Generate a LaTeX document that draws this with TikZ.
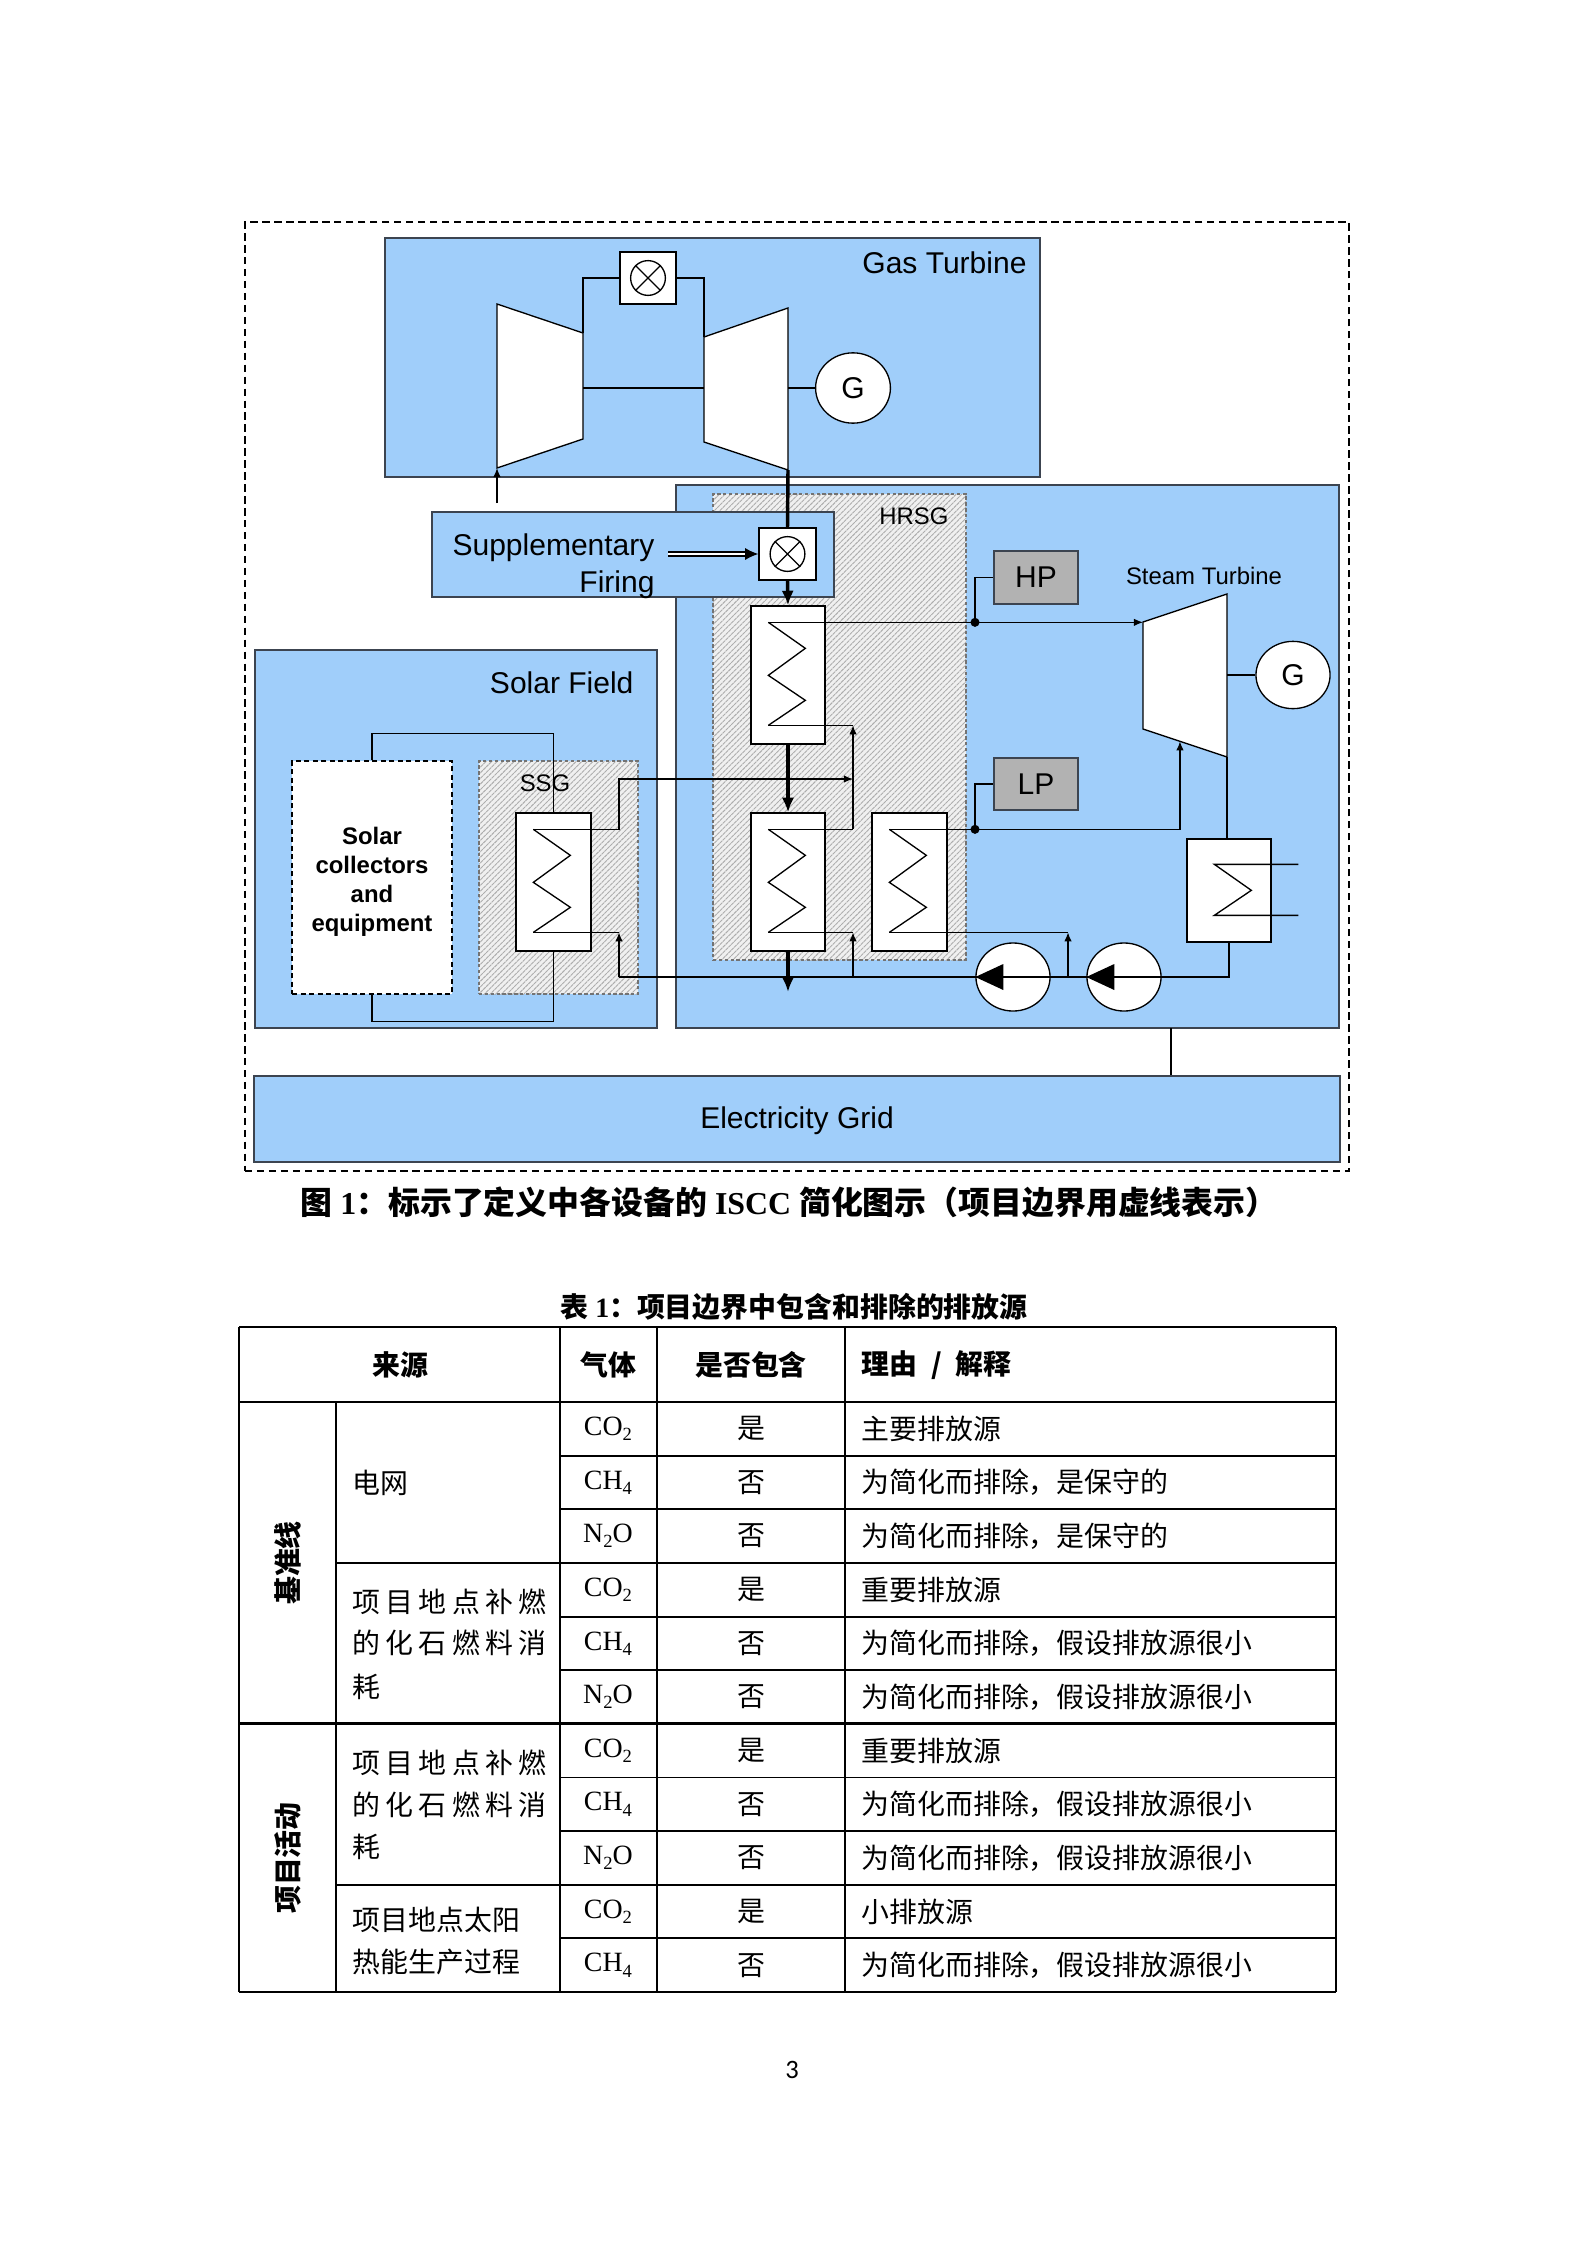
\documentclass[tikz,border=0pt]{standalone}
\usepackage{fontspec}
\setmainfont{Liberation Serif}
\setsansfont{Liberation Sans}
\newfontfamily\cjk{Noto Sans CJK SC}
\newfontfamily\pagefont{Carlito}
\usetikzlibrary{fit,calc,shapes.geometric,patterns,patterns.meta,arrows.meta}

\definecolor{skyfill}{RGB}{160,206,250}
\definecolor{boxline}{RGB}{60,68,80}
\newcommand\zhb[1]{{\cjk\bfseries #1}}
\newcommand\sbs[1]{\raisebox{-0.4ex}{\fontsize{7}{7}\selectfont #1}}

\begin{document}
\begin{tikzpicture}[
  x=0.013224cm, y=-0.013224cm,
  big text/.style={font=\sffamily\fontsize{11.3}{13.9}\selectfont, inner sep=0},
  small text/.style={font=\sffamily\fontsize{9}{10.9}\selectfont, inner sep=0},
  unit box/.style={draw=boxline, line width=0.8pt, fill=skyfill, inner sep=0},
  hx box/.style={draw, line width=0.5pt, fill=white, inner sep=0},
  drum box/.style={draw=boxline, line width=0.8pt, fill=black!30, inner sep=0},
  hatch box/.style={
    draw=black!55,
    line width=0.6pt,
    dash pattern=on 1.3pt off 0.9pt,
    inner sep=0,
    preaction={fill=black!6},
    pattern={Lines[angle=45,distance=1.5pt,line width=0.35pt]},
    pattern color=black!32,
  },
  machine/.style={draw, line width=0.5pt, fill=white},
  gen node/.style={ellipse, draw, line width=0.5pt, fill=white, inner sep=0, big text},
  fire node/.style={circle, draw, line width=0.5pt, fill=white, inner sep=0, minimum size=0.46cm},
  pipe/.style={line width=0.5pt},
  flow/.style={pipe, -{Latex[length=3.4pt,width=2.8pt]}},
  gas flow/.style={line width=1.3pt, -{Latex[length=5.5pt,width=4.6pt]}},
  head text/.style={font=\cjk\bfseries\fontsize{10.5}{12.6}\selectfont, inner sep=0},
  zh text/.style={font=\cjk\fontsize{10.5}{12.6}\selectfont, inner sep=0},
  gas text/.style={font=\fontsize{10.5}{12.6}\selectfont, inner sep=0},
  ]
  \path[use as bounding box, fill=white] (0,0) rectangle (1588,2245);

  % project boundary
  \node[fit={(245,222) (1349,1171)}, draw, line width=1pt,
    dash pattern=on 2.8pt off 1.7pt, inner sep=0] (boundary) {};

  % gas turbine
  \node[unit box, fit={(385,238) (1040,477)}] (gt) {};
  \node[big text, anchor=east] (gt-label) at (1027,263) {Gas Turbine};
  \node[hx box, fit={(620,252) (676,304)}] (gt-comb) {};
  \node[fire node] (gt-fire) at (gt-comb.center) {};
  \draw[pipe] (gt-fire.north east) -- (gt-fire.south west)
    (gt-fire.north west) -- (gt-fire.south east);
  \coordinate (cmp-a) at (497,304);
  \coordinate (cmp-b) at (583,333);
  \coordinate (cmp-c) at (583,439);
  \coordinate (cmp-d) at (497,468);
  \coordinate (trb-a) at (704,337);
  \coordinate (trb-b) at (788,308);
  \coordinate (trb-c) at (788,470);
  \coordinate (trb-d) at (704,442);
  \filldraw[machine] (cmp-a) -- (cmp-b) -- (cmp-c) -- (cmp-d) -- cycle;
  \filldraw[machine] (trb-a) -- (trb-b) -- (trb-c) -- (trb-d) -- cycle;
  \node[gen node, minimum width=0.99cm, minimum height=0.93cm] (gt-gen) at (853,388) {G};
  \draw[pipe] (cmp-b) |- (gt-comb.west);
  \draw[pipe] (trb-a) |- (gt-comb.east);
  \draw[pipe] (cmp-b |- gt-gen) -- (trb-a |- gt-gen);
  \draw[pipe] (trb-b |- gt-gen) -- (gt-gen.west);
  \coordinate (air) at (497,503);
  \draw[flow] (air) -- (cmp-d);

  % HRSG
  \node[unit box, fit={(676,485) (1339,1028)}] (hrsg) {};
  \node[hatch box, fit={(713,494) (966,960)}] (hrsg-gas) {};
  \node[small text] (hrsg-label) at (914,516) {HRSG};

  % supplementary firing
  \node[unit box, fit={(432,512) (834,597)}] (sf) {};
  \node[big text, align=right, anchor=east] (sf-label) at (655,566) {Supplementary\\Firing};
  \node[hx box, fit={(759,528) (816,580)}] (sf-comb) {};
  \node[fire node] (sf-fire) at (sf-comb.center) {};
  \draw[pipe] (sf-fire.north east) -- (sf-fire.south west)
    (sf-fire.north west) -- (sf-fire.south east);
  \coordinate (fuel) at (668,554);
  \draw[pipe, double, double distance=1.1pt, -{Latex[length=5pt,width=4.6pt]}] (fuel) -- (sf-comb.west);

  % heat exchangers
  \node[hx box, fit={(751,606) (825,744)}] (hx-hp) {};
  \node[hx box, fit={(751,813) (825,951)}] (hx-ev) {};
  \node[hx box, fit={(872,813) (947,951)}] (hx-lp) {};

  % steam turbine
  \node[drum box, fit={(994,551) (1078,604)}] (hp) {};
  \node[big text] (hp-label) at (hp.center) {HP};
  \node[drum box, fit={(994,758) (1078,810)}] (lp) {};
  \node[big text] (lp-label) at (lp.center) {LP};
  \node[small text] (st-label) at (1204,576) {Steam Turbine};
  \coordinate (st-a) at (1143,622);
  \coordinate (st-b) at (1227,594);
  \coordinate (st-c) at (1227,757);
  \coordinate (st-d) at (1143,729);
  \coordinate (st-lp) at ($(st-d)!0.44!(st-c)$);
  \filldraw[machine] (st-a) -- (st-b) -- (st-c) -- (st-d) -- cycle;
  \node[gen node, minimum width=0.98cm, minimum height=0.89cm] (st-gen) at (1293,675) {G};
  \draw[pipe] (st-b |- st-gen) -- (st-gen.west);
  \node[hx box, fit={(1187,839) (1271,942)}] (cond) {};
  \node[gen node, minimum width=0.98cm, minimum height=0.9cm] (pump-hp) at (1013,977) {};
  \node[gen node, minimum width=0.98cm, minimum height=0.9cm] (pump-lp) at (1124,977) {};

  % solar field
  \node[unit box, fit={(255,650) (657,1028)}] (solar) {};
  \node[big text, anchor=east] (solar-label) at (634,683) {Solar Field};
  \node[fit={(292,761) (452,994)}, draw, fill=white, line width=0.6pt,
    dash pattern=on 2pt off 1.2pt, inner sep=0] (coll) {};
  \node[small text, font=\sffamily\bfseries\fontsize{9}{10.9}\selectfont, align=center]
    (coll-label) at (372,882) {Solar\\collectors\\and\\equipment};
  \node[hatch box, fit={(479,761) (638,994)}] (ssg) {};
  \node[small text] (ssg-label) at (545,783) {SSG};
  \node[hx box, fit={(516,813) (591,951)}] (hx-ssg) {};

  % electricity grid
  \node[unit box, fit={(254,1076) (1340,1162)}] (grid) {};
  \node[big text] (grid-label) at (797,1121) {Electricity Grid};

  % coils
  \foreach \hx in {hx-hp,hx-ev,hx-lp,hx-ssg} {
    \draw[pipe] ([shift={(18,17)}]\hx.north west) -- ++(37,26) -- ++(-37,27) -- ++(37,25) -- ++(-37,25);
    \coordinate (\hx-out) at ([shift={(18,17)}]\hx.north west);
    \coordinate (\hx-in) at ([shift={(18,120)}]\hx.north west);
  }
  \draw[pipe] ([shift={(112,26)}]cond.north west) -- ++(-84,0) -- ++(37,26) -- ++(-37,25) -- ++(84,0);

  % steam lines
  \coordinate (tee-x) at (975,0);
  \draw[flow] (hx-hp-out) -- (hx-hp-out -| st-a);
  \fill (hx-hp-out -| tee-x) circle (1.7pt);
  \draw[pipe] (hx-hp-out -| tee-x) |- (hp.west);
  \draw[flow] (hx-lp-out) -| (st-lp);
  \fill (hx-lp-out -| tee-x) circle (1.7pt);
  \draw[pipe] (hx-lp-out -| tee-x) |- (lp.west);

  % condensate and feed water
  \draw[pipe] (st-c) -- (st-c |- cond.north);
  \draw[pipe] (cond.south) |- (pump-lp.east);
  \draw[pipe] (pump-lp.west) -- (pump-lp.east);
  \draw[pipe] (pump-lp.west) -- (pump-hp.east);
  \draw[pipe] (pump-hp.west) -- (pump-hp.east);
  \fill (pump-lp.west) -- ++(28,-13) -- ++(0,26) -- cycle;
  \fill (pump-hp.west) -- ++(28,-13) -- ++(0,26) -- cycle;
  \coordinate (lp-tap) at (1068,977);
  \coordinate (ev-tap) at (853,977);
  \coordinate (fw-end) at (619,977);
  \draw[pipe] (pump-hp.west) -- (fw-end);
  \draw[flow] (lp-tap) -- (lp-tap |- hx-lp-in);
  \draw[pipe] (lp-tap |- hx-lp-in) -- (hx-lp-in);
  \draw[flow] (ev-tap) -- (ev-tap |- hx-ev-in);
  \draw[pipe] (ev-tap |- hx-ev-in) -- (hx-ev-in);
  \draw[flow] (fw-end) -- (fw-end |- hx-ssg-in);
  \draw[pipe] (fw-end |- hx-ssg-in) -- (hx-ssg-in);
  \draw[pipe] (hx-ev-out) -- (hx-ev-out -| ev-tap);
  \draw[flow] (hx-ev-out -| ev-tap) -- (ev-tap |- hx-hp-in);
  \draw[pipe] (ev-tap |- hx-hp-in) -- (hx-hp-in);
  \coordinate (ssg-link) at (0,779);
  \draw[flow] (hx-ssg-out) -| (fw-end |- ssg-link) -- (ev-tap |- ssg-link);

  % solar loop
  \draw[pipe] (coll.north) -- ++(0,-27) -| (hx-ssg.north);
  \draw[pipe] (hx-ssg.south) -- ++(0,70) -| (coll.south);

  % exhaust gas
  \draw[line width=1.3pt] (trb-c) -- (sf-comb.north);
  \draw[gas flow] (sf-comb.south) -- (hx-hp.north);
  \draw[gas flow] (hx-hp.south) -- (hx-ev.north);
  \coordinate (stack) at (788,992);
  \draw[gas flow] (hx-ev.south) -- (stack);

  % power export
  \coordinate (grid-link) at (1171,1028);
  \draw[line width=1pt] (grid-link) -- (grid-link |- grid.north);

  % captions
  \node[font=\bfseries\fontsize{12}{14}\selectfont, inner sep=0] (fig-caption) at (789,1202)
    {\zhb{图} 1\zhb{：标示了定义中各设备的} ISCC \zhb{简化图示（项目边界用虚线表示）}};
  \node[font=\bfseries\fontsize{10.5}{12.6}\selectfont, inner sep=0] (tab-caption) at (794,1307)
    {\zhb{表} 1\zhb{：项目边界中包含和排除的排放源}};

  % table rules
  \draw[line width=1.1pt] (239,1327) -- (1336,1327) (239,1402) -- (1336,1402)
    (239,1723.5) -- (1336,1723.5) (239,1992) -- (1336,1992);
  \foreach \cx in {239,560,657,845,1336}
    \draw[line width=0.75pt] (\cx,1327) -- (\cx,1992);
  \draw[line width=0.75pt] (336,1402) -- (336,1992);
  \foreach \r in {1,2,4,5,7,8,10}
    \draw[line width=0.75pt] (560,{1402+53.64*\r}) -- (1336,{1402+53.64*\r});
  \foreach \r in {3,9}
    \draw[line width=0.75pt] (336,{1402+53.64*\r}) -- (1336,{1402+53.64*\r});

  % table head
  \node[head text] (head-src) at (400,1365) {来源};
  \node[head text] (head-gas) at (608,1365) {气体};
  \node[head text] (head-inc) at (751,1365) {是否包含};
  \node[head text, anchor=west] (head-why) at (861,1365) {理由\enspace{}/\enspace{}解释};
  \node[head text, rotate=90] (base-label) at (288,1563) {基准线};
  \node[head text, rotate=90] (proj-label) at (288,1858) {项目活动};

  % sources
  \node[zh text, anchor=west] (src-grid) at (352,1483) {电网};
  \node[zh text, anchor=west] (src-fuel-a) at (352,1602)
    {\hbox to 2.565cm{项\hfill{}目\hfill{}地\hfill{}点\hfill{}补\hfill{}燃}};
  \node[zh text, anchor=west] (src-fuel-b) at (352,1643)
    {\hbox to 2.565cm{的\hfill{}化\hfill{}石\hfill{}燃\hfill{}料\hfill{}消}};
  \node[zh text, anchor=west] (src-fuel-c) at (352,1687) {耗};
  \node[zh text, anchor=west] (prj-fuel-a) at (352,1763)
    {\hbox to 2.565cm{项\hfill{}目\hfill{}地\hfill{}点\hfill{}补\hfill{}燃}};
  \node[zh text, anchor=west] (prj-fuel-b) at (352,1805)
    {\hbox to 2.565cm{的\hfill{}化\hfill{}石\hfill{}燃\hfill{}料\hfill{}消}};
  \node[zh text, anchor=west] (prj-fuel-c) at (352,1847) {耗};
  \node[zh text, anchor=west] (prj-solar-a) at (352,1920) {项目地点太阳};
  \node[zh text, anchor=west] (prj-solar-b) at (352,1962) {热能生产过程};

  % rows
  \foreach \gas/\inc/\why [count=\r from 0] in {
    CO\sbs{2}/是/主要排放源,
    CH\sbs{4}/否/为简化而排除，是保守的,
    N\sbs{2}O/否/为简化而排除，是保守的,
    CO\sbs{2}/是/重要排放源,
    CH\sbs{4}/否/为简化而排除，假设排放源很小,
    N\sbs{2}O/否/为简化而排除，假设排放源很小,
    CO\sbs{2}/是/重要排放源,
    CH\sbs{4}/否/为简化而排除，假设排放源很小,
    N\sbs{2}O/否/为简化而排除，假设排放源很小,
    CO\sbs{2}/是/小排放源,
    CH\sbs{4}/否/为简化而排除，假设排放源很小} {
    \node[gas text] (gas-\r) at (608,{1428.8+53.64*\r}) {\gas};
    \node[zh text] (inc-\r) at (751,{1428.8+53.64*\r}) {\inc};
    \node[zh text, anchor=west] (why-\r) at (861,{1428.8+53.64*\r}) {\why};
  }

  \node[font=\pagefont\fontsize{10}{12}\selectfont, inner sep=0] (page-no) at (792,2070) {3};
\end{tikzpicture}
\end{document}
